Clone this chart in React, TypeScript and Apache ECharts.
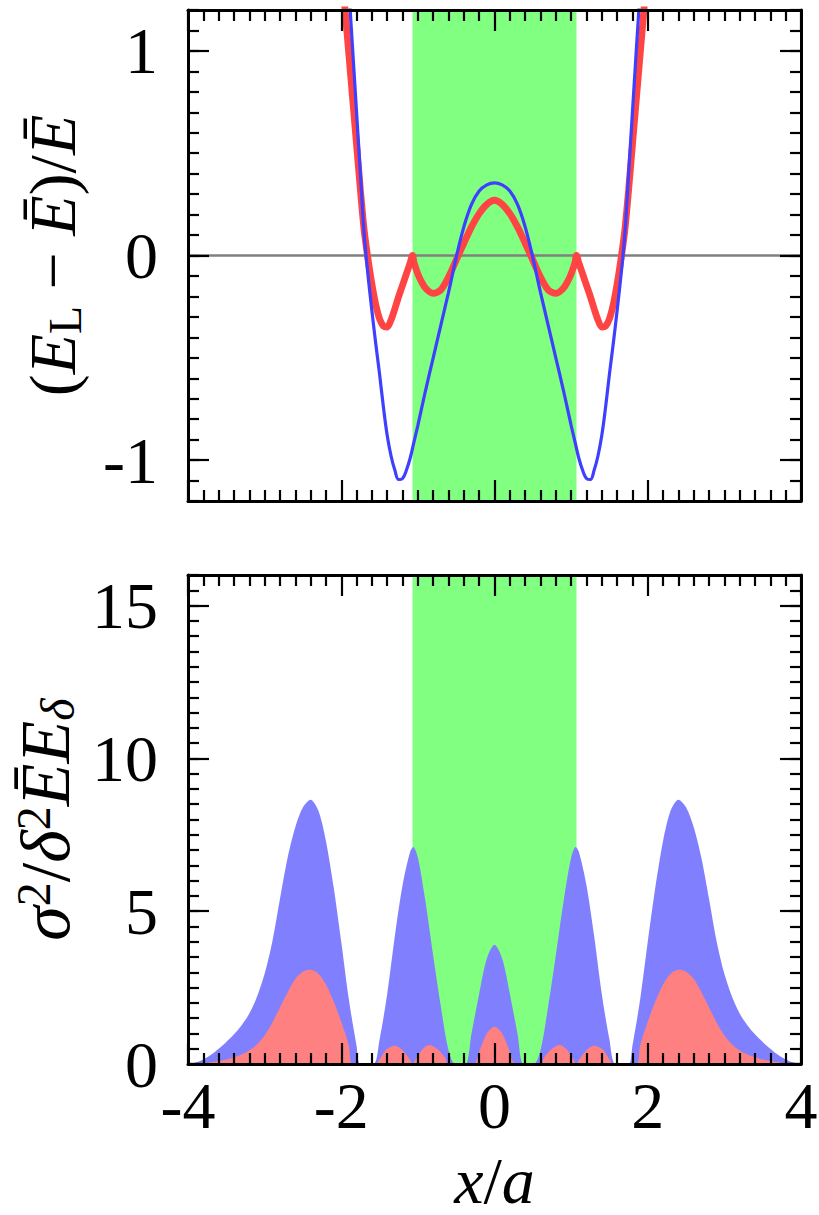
import React, { useEffect, useRef } from "react";
import * as echarts from "echarts";

// ---------- data ----------
const topYTicks = [-1, 0, 1];
const bottomYTicks = [0, 5, 10, 15];
const bandEdges = [-1.07, 1.07];

// upper panel, blue curve
const topBlueX = [-2.0, -1.95, -1.9, -1.85, -1.8, -1.75, -1.7, -1.65, -1.6, -1.55, -1.5, -1.45, -1.4, -1.35, -1.3, -1.25, -1.2, -1.15, -1.1, -1.05, -1.0, -0.9, -0.8, -0.7, -0.6, -0.5, -0.4, -0.3, -0.2, -0.1, 0,
  0.1, 0.2, 0.3, 0.4, 0.5, 0.6, 0.7, 0.8, 0.9, 1.0, 1.05, 1.1, 1.15, 1.2, 1.25, 1.3, 1.35, 1.4, 1.45, 1.5, 1.55, 1.6, 1.65, 1.7, 1.75, 1.8, 1.85, 1.9, 1.95, 2.0];
const topBlueY = [1.95, 1.62, 1.3, 1.0, 0.7, 0.4, 0.1, -0.1, -0.27, -0.43, -0.58, -0.74, -0.88, -0.98, -1.05, -1.095, -1.09, -1.05, -0.99, -0.91, -0.83, -0.66, -0.5, -0.34, -0.18, -0.01, 0.14, 0.25, 0.315, 0.345, 0.355,
  0.345, 0.315, 0.25, 0.14, -0.01, -0.18, -0.34, -0.5, -0.66, -0.83, -0.91, -0.99, -1.05, -1.09, -1.095, -1.05, -0.98, -0.88, -0.74, -0.58, -0.43, -0.27, -0.1, 0.1, 0.4, 0.7, 1.0, 1.3, 1.62, 1.95];

// upper panel, red curve
const topRedX = [-2.0, -1.95, -1.9, -1.85, -1.8, -1.75, -1.7, -1.65, -1.6, -1.55, -1.5, -1.45, -1.4, -1.35, -1.3, -1.25, -1.2, -1.15, -1.1, -1.07, -1.05, -1.0, -0.95, -0.9, -0.85, -0.8, -0.75, -0.7, -0.65, -0.6, -0.55, -0.5, -0.4, -0.3, -0.2, -0.1, 0,
  0.1, 0.2, 0.3, 0.4, 0.5, 0.55, 0.6, 0.65, 0.7, 0.75, 0.8, 0.85, 0.9, 0.95, 1.0, 1.05, 1.07, 1.1, 1.15, 1.2, 1.25, 1.3, 1.35, 1.4, 1.45, 1.5, 1.55, 1.6, 1.65, 1.7, 1.75, 1.8, 1.85, 1.9, 1.95, 2.0];
const topRedY = [1.42, 1.2, 0.98, 0.76, 0.54, 0.32, 0.12, -0.02, -0.14, -0.24, -0.31, -0.345, -0.35, -0.315, -0.26, -0.2, -0.145, -0.09, -0.035, 0.0, -0.035, -0.09, -0.13, -0.16, -0.177, -0.185, -0.18, -0.168, -0.14, -0.105, -0.065, -0.022, 0.06, 0.14, 0.205, 0.25, 0.27,
  0.25, 0.205, 0.14, 0.06, -0.022, -0.065, -0.105, -0.14, -0.168, -0.18, -0.185, -0.177, -0.16, -0.13, -0.09, -0.035, 0.0, -0.035, -0.09, -0.145, -0.2, -0.26, -0.315, -0.35, -0.345, -0.31, -0.24, -0.14, -0.02, 0.12, 0.32, 0.54, 0.76, 0.98, 1.2, 1.42];

// lower panel, blue area
const botBlueX = [-4.0, -3.9, -3.8, -3.7, -3.6, -3.5, -3.4, -3.3, -3.2, -3.1, -3.0, -2.9, -2.8, -2.7, -2.6, -2.5, -2.4, -2.3, -2.2, -2.1, -2.0, -1.9, -1.8, -1.75, -1.58, -1.5, -1.4, -1.3, -1.2, -1.1, -1.06, -1.0, -0.9, -0.8, -0.7, -0.6, -0.51, -0.38, -0.3, -0.2, -0.1, 0,
  0.1, 0.2, 0.3, 0.38, 0.51, 0.6, 0.7, 0.8, 0.9, 1.0, 1.06, 1.1, 1.2, 1.3, 1.4, 1.5, 1.58, 1.75, 1.8, 1.9, 2.0, 2.1, 2.2, 2.3, 2.4, 2.5, 2.6, 2.7, 2.8, 2.9, 3.0, 3.1, 3.2, 3.3, 3.4, 3.5, 3.6, 3.7, 3.8, 3.9, 4.0];
const botBlueY = [0, 0.05, 0.15, 0.3, 0.5, 0.72, 0.97, 1.27, 1.65, 2.2, 2.95, 4.0, 5.4, 6.75, 7.75, 8.4, 8.65, 8.3, 7.3, 5.8, 4.0, 2.1, 0.6, 0, 0, 0.8, 2.3, 4.2, 5.85, 6.95, 7.1, 6.75, 5.3, 3.55, 1.88, 0.45, 0, 0, 1.0, 2.3, 3.45, 3.9,
  3.45, 2.3, 1.0, 0, 0, 0.45, 1.88, 3.55, 5.3, 6.75, 7.1, 6.95, 5.85, 4.2, 2.3, 0.8, 0, 0, 0.6, 2.1, 4.0, 5.8, 7.3, 8.3, 8.65, 8.4, 7.75, 6.75, 5.4, 4.0, 2.95, 2.2, 1.65, 1.27, 0.97, 0.72, 0.5, 0.3, 0.15, 0.05, 0];

// lower panel, red area
const botRedX = [-4.0, -3.9, -3.8, -3.7, -3.6, -3.5, -3.4, -3.3, -3.2, -3.1, -3.0, -2.9, -2.8, -2.7, -2.6, -2.5, -2.4, -2.3, -2.2, -2.1, -2.0, -1.9, -1.85, -1.55, -1.5, -1.45, -1.4, -1.3, -1.2, -1.1, -1.07, -1.04, -0.95, -0.85, -0.75, -0.65, -0.6, -0.27, -0.2, -0.1, 0,
  0.1, 0.2, 0.27, 0.6, 0.65, 0.75, 0.85, 0.95, 1.04, 1.07, 1.1, 1.2, 1.3, 1.4, 1.45, 1.5, 1.55, 1.85, 1.9, 2.0, 2.1, 2.2, 2.3, 2.4, 2.5, 2.6, 2.7, 2.8, 2.9, 3.0, 3.1, 3.2, 3.3, 3.4, 3.5, 3.6, 3.7, 3.8, 3.9, 4.0];
const botRedY = [0, 0.01, 0.03, 0.06, 0.1, 0.15, 0.22, 0.31, 0.44, 0.64, 0.93, 1.35, 1.85, 2.35, 2.78, 3.02, 3.08, 2.95, 2.6, 2.05, 1.38, 0.6, 0, 0, 0.15, 0.35, 0.5, 0.6, 0.45, 0.12, 0, 0.1, 0.45, 0.62, 0.5, 0.22, 0, 0, 0.4, 1.0, 1.22,
  1.0, 0.4, 0, 0, 0.22, 0.5, 0.62, 0.45, 0.1, 0, 0.12, 0.45, 0.6, 0.5, 0.35, 0.15, 0, 0, 0.6, 1.38, 2.05, 2.6, 2.95, 3.08, 3.02, 2.78, 2.35, 1.85, 1.35, 0.93, 0.64, 0.44, 0.31, 0.22, 0.15, 0.1, 0.06, 0.03, 0.01, 0];

// ---------- styling ----------
const FONT = "Liberation Serif";
const FS = 66;
const tickStyle = { color: "#000", width: 2.2 };
const frameStyle = { color: "#000", width: 3 };

const zip = (xs: number[], ys: number[]) => xs.map((x, i) => [x, ys[i]]);

function xAxisFor(gridIndex: number, position: string, showLabels: boolean, extra: any = {}) {
  return {
    type: "value", gridIndex, position, min: -4, max: 4, interval: 2, z: 10,
    axisLine: { show: true, onZero: false, lineStyle: frameStyle },
    axisTick: { show: true, inside: true, length: 21, lineStyle: tickStyle },
    minorTick: { show: true, splitNumber: 10, length: 11, lineStyle: tickStyle },
    axisLabel: { show: showLabels, fontFamily: FONT, fontSize: FS, color: "#000", margin: 8 },
    splitLine: { show: false },
    minorSplitLine: { show: false },
    ...extra,
  };
}

function yMajor(gridIndex: number, position: string, min: number, max: number, ticks: number[], showLabels: boolean, extra: any = {}) {
  return {
    type: "value", gridIndex, position, min, max, z: 10,
    axisLine: { show: true, onZero: false, lineStyle: frameStyle },
    axisTick: { show: true, inside: true, length: 21, lineStyle: tickStyle, customValues: ticks },
    axisLabel: { show: showLabels, customValues: ticks, fontFamily: FONT, fontSize: FS, color: "#000", margin: 30 },
    splitLine: { show: false },
    ...extra,
  };
}

function yMinor(gridIndex: number, position: string, min: number, max: number, step: number) {
  return {
    type: "value", gridIndex, position, min, max, interval: step, z: 10,
    axisLine: { show: false, onZero: false },
    axisTick: { show: true, inside: true, length: 11, lineStyle: tickStyle },
    axisLabel: { show: false },
    splitLine: { show: false },
  };
}

const richBase = {
  p: { fontFamily: FONT, fontSize: FS, color: "#000", lineHeight: 72 },
  i: { fontFamily: FONT, fontSize: FS, fontStyle: "italic", color: "#000", lineHeight: 72 },
  s: { fontFamily: FONT, fontSize: 46, color: "#000", lineHeight: 36, verticalAlign: "bottom" },
};

const richSigma = {
  p: { fontFamily: FONT, fontSize: 70, color: "#000", lineHeight: 72 },
  i: { fontFamily: FONT, fontSize: 70, fontStyle: "italic", color: "#000", lineHeight: 72 },
  si: { fontFamily: FONT, fontSize: 48, fontStyle: "italic", color: "#000", lineHeight: 36, verticalAlign: "bottom" },
  sup: { fontFamily: FONT, fontSize: 48, color: "#000", lineHeight: 36, verticalAlign: "top" },
};

const richX = {
  p: { fontFamily: FONT, fontSize: FS, color: "#000", lineHeight: 64 },
  i: { fontFamily: FONT, fontSize: FS, fontStyle: "italic", color: "#000", lineHeight: 64 },
};

export default function App() {
  const ref = useRef<HTMLDivElement>(null);
  useEffect(() => {
    if (!ref.current) return;
    const chart = echarts.init(ref.current, null, { renderer: "svg" });
    const option: any = {
      animation: false,
      backgroundColor: "#fff",
      grid: [
        { left: 188, right: 18, top: 10, height: 491, containLabel: false, outerBoundsMode: "none" },
        { left: 188, right: 18, top: 575, height: 489, containLabel: false, outerBoundsMode: "none" },
      ],
      xAxis: [
        xAxisFor(0, "bottom", false),
        xAxisFor(0, "top", false),
        xAxisFor(1, "bottom", true, {
          name: "{i|x}{p|/}{i|a}",
          nameLocation: "middle",
          nameGap: 84,
          nameTextStyle: { fontFamily: FONT, fontSize: FS, color: "#000", lineHeight: 64, rich: richX },
        }),
        xAxisFor(1, "top", false),
      ],
      yAxis: [
        yMajor(0, "left", -1.2, 1.2, topYTicks, true, {
          name: "{p|(}{i|E}{s|L}{p| − }{i|Ē}{p|)/}{i|Ē}",
          nameLocation: "middle",
          nameRotate: 90,
          nameGap: 100,
          nameTextStyle: { fontFamily: FONT, fontSize: FS, color: "#000", lineHeight: 72, rich: richBase },
        }),
        yMinor(0, "left", -1.2, 1.2, 0.1),
        yMajor(0, "right", -1.2, 1.2, topYTicks, false),
        yMinor(0, "right", -1.2, 1.2, 0.1),
        yMajor(1, "left", 0, 16, bottomYTicks, true, {
          name: "{i|σ}{sup|2}{p|/}{i|δ}{sup|2}{i|ĒE}{si|δ}",
          nameLocation: "middle",
          nameRotate: 90,
          nameGap: 96,
          nameTextStyle: { fontFamily: FONT, fontSize: 70, color: "#000", lineHeight: 72, rich: richSigma },
        }),
        yMinor(1, "left", 0, 16, 0.5),
        yMajor(1, "right", 0, 16, bottomYTicks, false),
        yMinor(1, "right", 0, 16, 0.5),
      ],
      series: [
        // upper panel
        {
          type: "line", xAxisIndex: 0, yAxisIndex: 0, z: 1, symbol: "none", silent: true,
          data: [[bandEdges[0], 1.2], [bandEdges[1], 1.2]],
          lineStyle: { width: 0 },
          areaStyle: { color: "#80ff80", opacity: 1, origin: "start" },
        },
        {
          type: "line", xAxisIndex: 0, yAxisIndex: 0, z: 2, symbol: "none", silent: true,
          data: [[-4, 0], [4, 0]],
          lineStyle: { color: "#808080", width: 2.5 },
        },
        {
          type: "line", xAxisIndex: 0, yAxisIndex: 0, z: 3, symbol: "none", silent: true, smooth: 0.3,
          data: zip(topRedX, topRedY),
          lineStyle: { color: "#ff4444", width: 6.8 },
        },
        {
          type: "line", xAxisIndex: 0, yAxisIndex: 0, z: 4, symbol: "none", silent: true, smooth: 0.4,
          data: zip(topBlueX, topBlueY),
          lineStyle: { color: "#3f3fff", width: 3.2 },
        },
        // lower panel
        {
          type: "line", xAxisIndex: 2, yAxisIndex: 4, z: 1, symbol: "none", silent: true,
          data: [[bandEdges[0], 16], [bandEdges[1], 16]],
          lineStyle: { width: 0 },
          areaStyle: { color: "#80ff80", opacity: 1, origin: "start" },
        },
        {
          type: "line", xAxisIndex: 2, yAxisIndex: 4, z: 2, symbol: "none", silent: true, smooth: 0.3,
          data: zip(botBlueX, botBlueY),
          lineStyle: { width: 0 },
          areaStyle: { color: "#8080ff", opacity: 1, origin: "start" },
        },
        {
          type: "line", xAxisIndex: 2, yAxisIndex: 4, z: 3, symbol: "none", silent: true, smooth: 0.3,
          data: zip(botRedX, botRedY),
          lineStyle: { width: 0 },
          areaStyle: { color: "#ff8080", opacity: 1, origin: "start" },
        },
      ],
    };
    chart.setOption(option);
    return () => chart.dispose();
  }, []);
  return (
    <div
      ref={ref}
      style={{ position: "absolute", left: 0, top: 0, width: 819, height: 1215, background: "#fff" }}
    />
  );
}
